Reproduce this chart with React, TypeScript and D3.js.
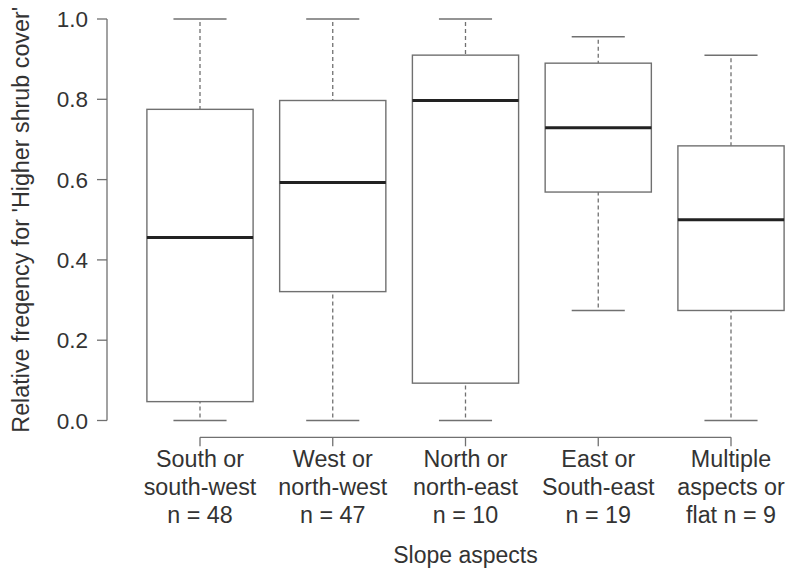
import React from "react";
import * as d3 from "d3";

// Slope-aspect groups (three label lines each) and their five-number summaries
const categoryLines: string[][] = [
  ["South or", "south-west", "n = 48"],
  ["West or", "north-west", "n = 47"],
  ["North or", "north-east", "n = 10"],
  ["East or", "South-east", "n = 19"],
  ["Multiple", "aspects or", "flat n = 9"],
];
const lowerWhisker = [0.0, 0.0, 0.0, 0.274, 0.0];
const lowerQuartile = [0.047, 0.321, 0.093, 0.569, 0.274];
const medianValue = [0.456, 0.593, 0.797, 0.729, 0.5];
const upperQuartile = [0.775, 0.797, 0.91, 0.89, 0.684];
const upperWhisker = [1.0, 1.0, 1.0, 0.956, 0.91];
const yTicks = [0, 0.2, 0.4, 0.6, 0.8, 1.0];

const W = 788;
const H = 571;
const FONT = "'Liberation Sans', Arial, Helvetica, sans-serif";
const LINE = "#707070";
const TEXT = "#333333";

export default function App() {
  const idx = categoryLines.map((_, i) => i);
  const x = d3.scalePoint<number>().domain(idx).range([200, 731]);
  const step = x.step();
  const boxW = step * 0.8;
  const capW = boxW * 0.5;
  const y = d3.scaleLinear().domain([0, 1]).range([420.5, 19]);
  const axisX = 107;
  const axisY = 437.3;

  return (
    <svg
      width={W}
      height={H}
      viewBox={`0 0 ${W} ${H}`}
      style={{ position: "absolute", left: 0, top: 0, background: "#fff" }}
      fontFamily={FONT}
    >
      <rect width={W} height={H} fill="#fff" />

      {/* y axis */}
      <line x1={axisX} x2={axisX} y1={y(0)} y2={y(1)} stroke={LINE} strokeWidth={1.3} />
      {yTicks.map((t) => (
        <g key={t}>
          <line x1={axisX - 10} x2={axisX} y1={y(t)} y2={y(t)} stroke={LINE} strokeWidth={1.3} />
          <text
            x={axisX - 19}
            y={y(t)}
            dy="0.36em"
            textAnchor="end"
            fontSize={22.5}
            fill={TEXT}
          >
            {d3.format(".1f")(t)}
          </text>
        </g>
      ))}
      <text
        transform={`translate(28.5,${(y(0) + y(1)) / 2}) rotate(-90)`}
        textAnchor="middle"
        fontSize={23.3}
        fill={TEXT}
      >
        Relative freqency for 'Higher shrub cover'
      </text>

      {/* boxes */}
      {idx.map((i) => {
        const cx = x(i)!;
        return (
          <g key={i}>
            <line
              x1={cx}
              x2={cx}
              y1={y(upperWhisker[i])}
              y2={y(upperQuartile[i])}
              stroke={LINE}
              strokeWidth={1.3}
              strokeDasharray="4,3"
              strokeDashoffset={4}
            />
            <line
              x1={cx}
              x2={cx}
              y1={y(lowerWhisker[i])}
              y2={y(lowerQuartile[i])}
              stroke={LINE}
              strokeWidth={1.3}
              strokeDasharray="4,3"
              strokeDashoffset={4}
            />
            <line
              x1={cx - capW / 2}
              x2={cx + capW / 2}
              y1={y(upperWhisker[i])}
              y2={y(upperWhisker[i])}
              stroke={LINE}
              strokeWidth={1.5}
            />
            <line
              x1={cx - capW / 2}
              x2={cx + capW / 2}
              y1={y(lowerWhisker[i])}
              y2={y(lowerWhisker[i])}
              stroke={LINE}
              strokeWidth={1.5}
            />
            <rect
              x={cx - boxW / 2}
              y={y(upperQuartile[i])}
              width={boxW}
              height={y(lowerQuartile[i]) - y(upperQuartile[i])}
              fill="#fff"
              stroke={LINE}
              strokeWidth={1.4}
            />
            <line
              x1={cx - boxW / 2}
              x2={cx + boxW / 2}
              y1={y(medianValue[i])}
              y2={y(medianValue[i])}
              stroke="#222"
              strokeWidth={3}
            />
          </g>
        );
      })}

      {/* x axis */}
      <line x1={x(0)!} x2={x(idx.length - 1)!} y1={axisY} y2={axisY} stroke={LINE} strokeWidth={1.3} />
      {idx.map((i) => (
        <g key={i}>
          <line x1={x(i)!} x2={x(i)!} y1={axisY} y2={axisY + 9} stroke={LINE} strokeWidth={1.3} />
          {categoryLines[i].map((s, k) => (
            <text
              key={k}
              x={x(i)!}
              y={466.7 + k * 28.3}
              textAnchor="middle"
              fontSize={23.3}
              fill={TEXT}
            >
              {s}
            </text>
          ))}
        </g>
      ))}
      <text x={(x(0)! + x(idx.length - 1)!) / 2} y={563} textAnchor="middle" fontSize={23} fill={TEXT}>
        Slope aspects
      </text>
    </svg>
  );
}
